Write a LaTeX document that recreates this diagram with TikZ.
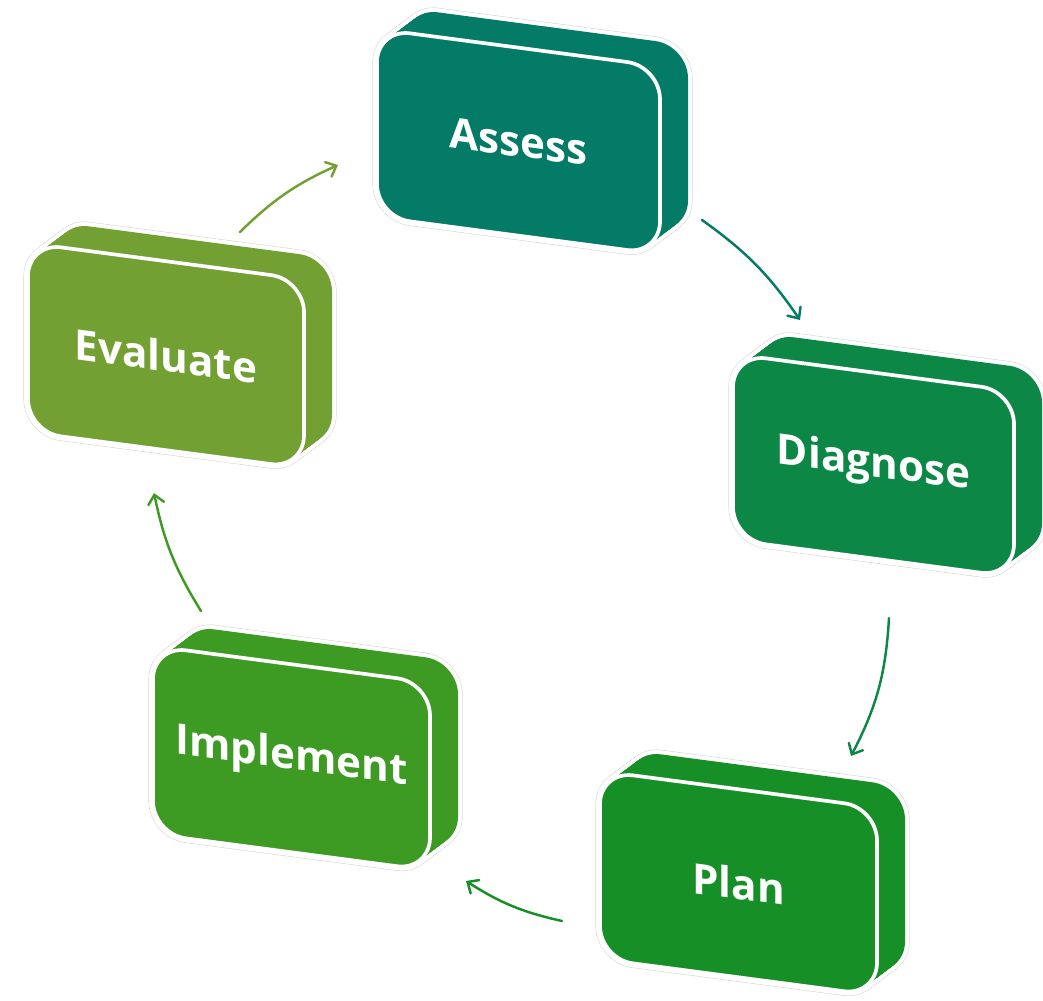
\documentclass[tikz,border=0pt]{standalone}
\usepackage{fontspec}
\setmainfont{Open Sans}
\usetikzlibrary{arrows.meta}

\definecolor{cAssess}{HTML}{037B66}
\definecolor{cDiagnose}{HTML}{0D8746}
\definecolor{cPlan}{HTML}{168F26}
\definecolor{cImplement}{HTML}{3D9A23}
\definecolor{cEvaluate}{HTML}{72A032}
\definecolor{haloline}{HTML}{D4D4D4}

\tikzset{
  facepath/.style={rounded corners=0.66cm},
  halooutline/.style={facepath, draw=haloline, line width=5.2pt},
  halofill/.style={facepath, draw=white, line width=4.6pt},
  bodyfill/.style={facepath, fill=#1},
  frontface/.style={facepath, fill=#1, draw=white, line width=2.1pt},
  blocklabel/.style={text=white, font=\bfseries\fontsize{24}{24}\selectfont, transform shape, inner sep=0pt},
  flow/.style={draw=#1, line width=1.4pt, line cap=round,
    -{Straight Barb[length=5pt,width=9pt,line cap=round]}}
}

% one extruded block: #1 name, #2 x, #3 y (front face, top-left), #4 width, #5 height, #6 colour, #7 label
\newcommand{\slabblock}[7]{%
  \foreach \k in {0,...,28}{
    \begin{scope}[shift={({#2+3+1.0*\k},{#3+3-0.75*\k})}, yslant=-0.132]
      \path[halooutline] (0,0) rectangle ({#4-6},{#5-6});
    \end{scope}}
  \foreach \k in {0,...,28}{
    \begin{scope}[shift={({#2+3+1.0*\k},{#3+3-0.75*\k})}, yslant=-0.132]
      \path[halofill] (0,0) rectangle ({#4-6},{#5-6});
    \end{scope}}
  \foreach \k in {0,...,28}{
    \begin{scope}[shift={({#2+3+1.0*\k},{#3+3-0.75*\k})}, yslant=-0.132]
      \path[bodyfill=#6] (0,0) rectangle ({#4-6},{#5-6});
    \end{scope}}
  \begin{scope}[shift={({#2+3},{#3+3})}, yslant=-0.132]
    \path[frontface=#6] (0,0) rectangle ({#4-6},{#5-6});
    \node[blocklabel] (#1) at ({(#4-6)/2},{(#5-6)/2}) {#7};
  \end{scope}%
}

\begin{document}
\begin{tikzpicture}[x=0.02cm, y=-0.02cm]
  \useasboundingbox (0,0) rectangle (1043,1000);
  \clip (0,0) rectangle (1043,1000);

  % the five stages
  \slabblock{assess}{374}{26}{289}{194}{cAssess}{Assess}
  \slabblock{diagnose}{730}{351}{287}{192}{cDiagnose}{Diagnose}
  \slabblock{plan}{597}{768}{283}{194}{cPlan}{Plan}
  \slabblock{implement}{150}{643}{283}{194}{cImplement}{Implement}
  \slabblock{evaluate}{25}{240}{282}{195}{cEvaluate}{Evaluate}

  % arrow end points between the stages
  \coordinate (ea0) at (240,232);  \coordinate (ea1) at (338,165);
  \coordinate (ad0) at (702,220);  \coordinate (ad1) at (800,320);
  \coordinate (dp0) at (889,618);  \coordinate (dp1) at (851,756);
  \coordinate (pi0) at (562,921);  \coordinate (pi1) at (466,881);
  \coordinate (ie0) at (201,611);  \coordinate (ie1) at (154,493);

  % cycle arrows
  \draw[flow=cEvaluate]  (ea0) to[bend left=10] (ea1);
  \draw[flow=cAssess]    (ad0) to[bend left=10] (ad1);
  \draw[flow=cDiagnose]  (dp0) to[bend left=12] (dp1);
  \draw[flow=cPlan]      (pi0) to[bend left=10] (pi1);
  \draw[flow=cImplement] (ie0) to[bend left=10] (ie1);
\end{tikzpicture}
\end{document}
